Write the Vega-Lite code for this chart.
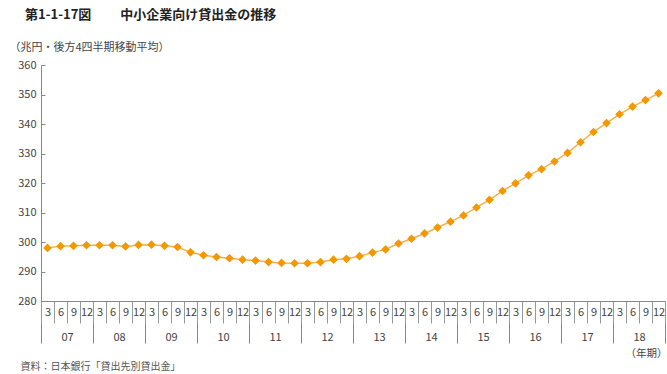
{
  "$schema": "https://vega.github.io/schema/vega-lite/v6.json",
  "width": 624,
  "height": 236,
  "autosize": {"type": "none"},
  "padding": {"left": 41, "top": 65, "right": 2, "bottom": 73},
  "title": {
    "text": "第1-1-17図　　   中小企業向け貸出金の推移",
    "anchor": "start",
    "frame": "group",
    "dx": -16,
    "offset": 19,
    "fontSize": 13,
    "fontWeight": "bold",
    "color": "#222222",
    "font": "Noto Sans CJK JP"
  },
  "data": {
    "values": [
      {"period": "07-3", "year": "07", "value": 298.0},
      {"period": "07-6", "year": "07", "value": 298.6},
      {"period": "07-9", "year": "07", "value": 298.7},
      {"period": "07-12", "year": "07", "value": 298.9},
      {"period": "08-3", "year": "08", "value": 298.9},
      {"period": "08-6", "year": "08", "value": 298.9},
      {"period": "08-9", "year": "08", "value": 298.5},
      {"period": "08-12", "year": "08", "value": 299.0},
      {"period": "09-3", "year": "09", "value": 299.1},
      {"period": "09-6", "year": "09", "value": 298.7},
      {"period": "09-9", "year": "09", "value": 298.3},
      {"period": "09-12", "year": "09", "value": 296.5},
      {"period": "10-3", "year": "10", "value": 295.5},
      {"period": "10-6", "year": "10", "value": 294.9},
      {"period": "10-9", "year": "10", "value": 294.5},
      {"period": "10-12", "year": "10", "value": 294.0},
      {"period": "11-3", "year": "11", "value": 293.7},
      {"period": "11-6", "year": "11", "value": 293.2},
      {"period": "11-9", "year": "11", "value": 292.9},
      {"period": "11-12", "year": "11", "value": 292.8},
      {"period": "12-3", "year": "12", "value": 292.8},
      {"period": "12-6", "year": "12", "value": 293.2},
      {"period": "12-9", "year": "12", "value": 294.0},
      {"period": "12-12", "year": "12", "value": 294.3},
      {"period": "13-3", "year": "13", "value": 295.2},
      {"period": "13-6", "year": "13", "value": 296.4},
      {"period": "13-9", "year": "13", "value": 297.5},
      {"period": "13-12", "year": "13", "value": 299.5},
      {"period": "14-3", "year": "14", "value": 301.1},
      {"period": "14-6", "year": "14", "value": 302.9},
      {"period": "14-9", "year": "14", "value": 304.9},
      {"period": "14-12", "year": "14", "value": 306.9},
      {"period": "15-3", "year": "15", "value": 309.0},
      {"period": "15-6", "year": "15", "value": 311.7},
      {"period": "15-9", "year": "15", "value": 314.3},
      {"period": "15-12", "year": "15", "value": 317.3},
      {"period": "16-3", "year": "16", "value": 319.9},
      {"period": "16-6", "year": "16", "value": 322.6},
      {"period": "16-9", "year": "16", "value": 324.7},
      {"period": "16-12", "year": "16", "value": 327.3},
      {"period": "17-3", "year": "17", "value": 330.2},
      {"period": "17-6", "year": "17", "value": 333.8},
      {"period": "17-9", "year": "17", "value": 337.3},
      {"period": "17-12", "year": "17", "value": 340.3},
      {"period": "18-3", "year": "18", "value": 343.3},
      {"period": "18-6", "year": "18", "value": 345.9},
      {"period": "18-9", "year": "18", "value": 348.1},
      {"period": "18-12", "year": "18", "value": 350.4}
    ]
  },
  "layer": [
    {
      "mark": {"type": "point", "opacity": 0},
      "encoding": {
        "x": {
          "field": "year",
          "type": "ordinal",
          "scale": {"type": "band", "paddingInner": 0, "paddingOuter": 0},
          "axis": {
            "orient": "bottom",
            "domain": false,
            "grid": false,
            "tickBand": "extent",
            "tickSize": 42,
            "tickColor": "#888888",
            "labelAngle": 0,
            "labelBaseline": "middle",
            "labelPadding": -6,
            "labelFontSize": 11,
            "labelColor": "#444444",
            "title": "（年期）",
            "titleX": 626,
            "titleY": 52,
            "titleAlign": "right",
            "titleAnchor": "end",
            "titleBaseline": "middle",
            "titleFontSize": 10.5,
            "titleFontWeight": "normal",
            "titleColor": "#444444"
          }
        }
      }
    },
    {
      "layer": [
        {
          "mark": {"type": "line", "color": "#f7b04a", "strokeWidth": 1.5},
          "encoding": {}
        },
        {
          "mark": {"type": "point", "shape": "diamond", "filled": true, "size": 75, "color": "#f39800", "opacity": 1},
          "encoding": {}
        }
      ],
      "encoding": {
        "x": {
          "field": "period",
          "type": "ordinal",
          "sort": null,
          "bandPosition": 0.5,
          "scale": {"type": "band", "paddingInner": 0, "paddingOuter": 0},
          "axis": {
            "orient": "bottom",
            "domain": true,
            "domainColor": "#888888",
            "grid": false,
            "tickBand": "extent",
            "tickSize": 22,
            "tickColor": "#999999",
            "labelAngle": 0,
            "labelBaseline": "middle",
            "labelPadding": -11,
            "labelFontSize": 11,
            "labelColor": "#444444",
            "labelExpr": "split(datum.value, '-')[1]",
            "title": "資料：日本銀行「貸出先別貸出金」",
            "titleX": -21,
            "titleY": 65,
            "titleAlign": "left",
            "titleAnchor": "start",
            "titleBaseline": "middle",
            "titleFontSize": 10,
            "titleFontWeight": "normal",
            "titleColor": "#555555"
          }
        },
        "y": {
          "field": "value",
          "type": "quantitative",
          "scale": {"domain": [280, 360], "nice": false, "zero": false},
          "axis": {
            "values": [280, 290, 300, 310, 320, 330, 340, 350, 360],
            "grid": false,
            "domainColor": "#888888",
            "tickColor": "#888888",
            "tickSize": -4,
            "labelPadding": 9,
            "labelFontSize": 11,
            "labelColor": "#444444",
            "title": "（兆円・後方4四半期移動平均）",
            "titleAngle": 0,
            "titleX": -32,
            "titleY": -18,
            "titleAlign": "left",
            "titleBaseline": "middle",
            "titleFontSize": 11,
            "titleFontWeight": "normal",
            "titleColor": "#444444"
          }
        }
      }
    }
  ],
  "resolve": {"scale": {"x": "independent"}, "axis": {"x": "independent"}},
  "config": {
    "font": "Noto Sans CJK JP",
    "view": {"stroke": null},
    "axis": {"labelFont": "Noto Sans CJK JP", "titleFont": "Noto Sans CJK JP"}
  }
}
